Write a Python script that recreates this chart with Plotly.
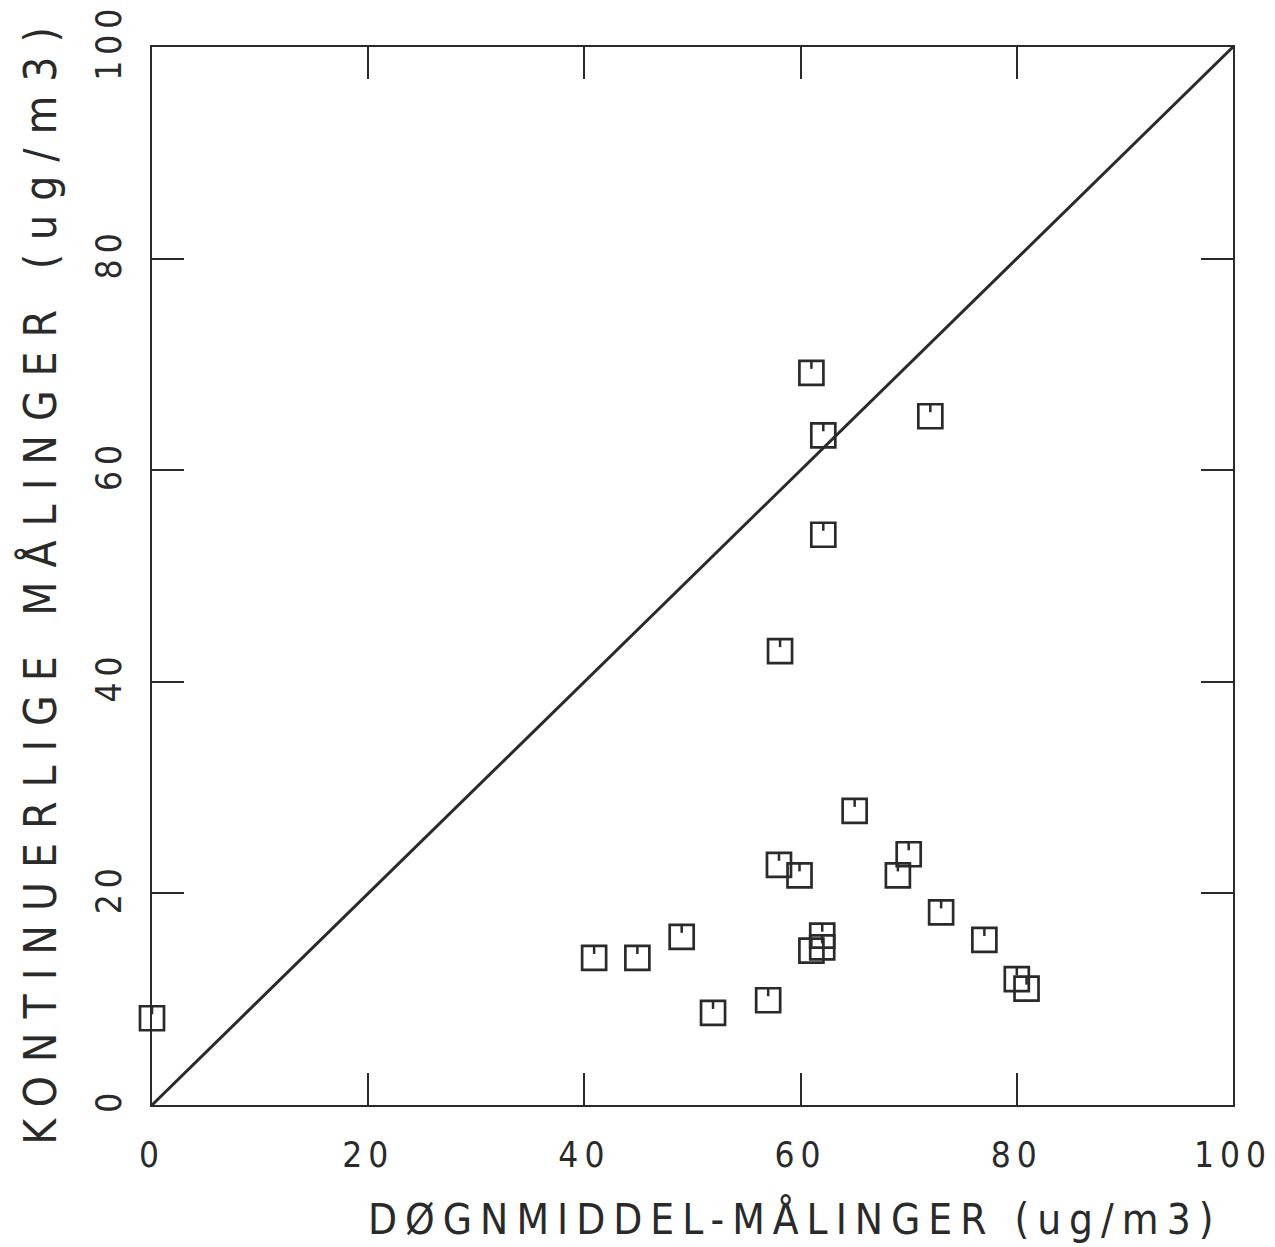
import plotly.graph_objects as go

# Daily-mean measurements (x) vs continuous measurements (y), ug/m3
dogn = [0.0, 40.9, 44.9, 49.0, 51.9, 57.0, 58.0, 59.9, 61.0, 62.0, 62.0,
        61.0, 62.1, 62.1, 58.1, 72.0, 65.0, 70.0, 69.0, 73.0, 77.0, 80.0, 80.9]
kont = [8.2, 13.9, 13.9, 15.9, 8.7, 9.9, 22.7, 21.7, 14.6, 16.0, 14.9,
        69.2, 63.3, 53.9, 42.9, 65.1, 27.8, 23.7, 21.7, 18.2, 15.6, 11.9, 11.0]

# 1:1 reference line
ref_line = [0, 100]

tick_vals = [0, 20, 40, 60, 80, 100]
tick_text = ["0", "20", "40", "60", "80", "100"]

x_title = "DØGNMIDDEL-MÅLINGER (ug/m3)"
y_title = "KONTINUERLIGE MÅLINGER (ug/m3)"

INK = "#2a2a2a"
FONT = "DejaVu Sans Condensed, DejaVu Sans, sans-serif"

fig = go.Figure()

fig.add_trace(go.Scatter(
    x=ref_line, y=ref_line, mode="lines",
    line=dict(color=INK, width=3), hoverinfo="skip", showlegend=False,
))

fig.add_trace(go.Scatter(
    x=dogn, y=kont, mode="markers", cliponaxis=False,
    marker=dict(symbol="square-open", size=24, color=INK,
                line=dict(color=INK, width=2.7)),
    showlegend=False,
))

# small notch hanging from the top edge of each square symbol
shapes = [
    dict(type="line", xref="x", yref="y",
         xsizemode="pixel", xanchor=xv, x0=0, x1=0,
         ysizemode="pixel", yanchor=yv, y0=4, y1=12,
         line=dict(color=INK, width=2.5))
    for xv, yv in zip(dogn, kont)
]

annotations = [
    dict(text=x_title, xref="paper", yref="paper", x=0.594, y=-0.1075,
         xanchor="center", yanchor="middle", showarrow=False,
         font=dict(family=FONT, size=42, color=INK)),
    dict(text=y_title, xref="paper", yref="paper", x=-0.103, y=0.497,
         xanchor="center", yanchor="middle", showarrow=False, textangle=-90,
         font=dict(family=FONT, size=44, color=INK)),
]

axis_common = dict(
    range=[0, 100], tickmode="array", tickvals=tick_vals, ticktext=tick_text,
    ticks="inside", ticklen=32, tickwidth=2, tickcolor=INK,
    showline=True, linecolor=INK, linewidth=2, mirror="ticks",
    showgrid=False, zeroline=False,
    tickfont=dict(family=FONT, size=35, color=INK),
)

fig.update_layout(
    width=1275, height=1247,
    margin=dict(l=152, r=37, t=45, b=142),
    paper_bgcolor="white", plot_bgcolor="white",
    xaxis=dict(**axis_common, ticklabelstandoff=18),
    yaxis=dict(**axis_common, tickangle=-90, ticklabelstandoff=15),
    shapes=shapes,
    annotations=annotations,
)

# plotter-style wide letter spacing for axis texts
post = """
var gd = document.getElementsByClassName('plotly-graph-div')[0];
function spread(){
  gd.querySelectorAll('.xtick text, .ytick text').forEach(function(t){
    t.style.letterSpacing = '6px';
  });
  gd.querySelectorAll('.annotation-text').forEach(function(t){
    var s = t.textContent;
    if (s.indexOf('KONT') === 0) {
      t.style.letterSpacing = '14px';
    } else if (s.indexOf('D') === 0) {
      t.style.letterSpacing = '8px';
    }
  });
}
spread();
gd.on('plotly_afterplot', spread);
"""

fig.write_html("out.html", post_script=post)
